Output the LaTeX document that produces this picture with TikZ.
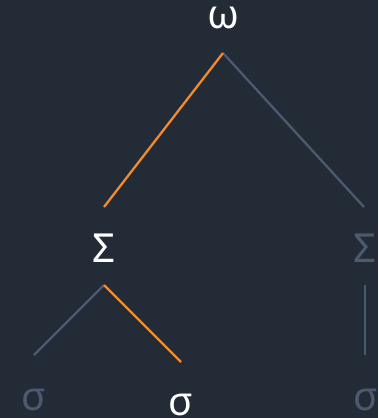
\documentclass[tikz,border=0pt]{standalone}
\usepackage{fontspec}
\setmainfont{Noto Sans}
\definecolor{bg}{HTML}{232B36}
\definecolor{hot}{HTML}{F28A30}
\definecolor{dim}{HTML}{4B5A70}
\begin{document}
\begin{tikzpicture}[x=1pt,y=-1pt,
  lbl/.style={anchor=base,inner sep=0pt,font=\fontsize{40}{46}\selectfont},
  lit/.style={lbl,text=white},
  dimt/.style={lbl,text=dim},
  hotedge/.style={draw=hot,line width=2.3pt},
  dimedge/.style={draw=dim,line width=2.3pt}]
\fill[bg] (0,0) rectangle (378,418);
\useasboundingbox (0,0) rectangle (378,418);
\node[lit] (w) at (223,28) {ω};
\node[lit] (S1) at (104,262) {Σ};
\node[dimt] (S2) at (365,262) {Σ};
\node[dimt] (s1) at (34,410) {σ};
\node[lit] (s2) at (181,415) {σ};
\node[dimt] (s3) at (366,410) {σ};
\coordinate (wb) at (223,53);
\coordinate (S1t) at (104,207);
\coordinate (S2t) at (364,207);
\coordinate (S1b) at (104,285);
\coordinate (S2b) at (365,285);
\coordinate (s1t) at (34,355);
\coordinate (s2t) at (181,362);
\coordinate (s3t) at (365,355);
\draw[dimedge] (wb) -- (S2t);
\draw[hotedge] (wb) -- (S1t);
\draw[dimedge] (S1b) -- (s1t);
\draw[hotedge] (S1b) -- (s2t);
\draw[dimedge] (S2b) -- (s3t);
\end{tikzpicture}
\end{document}
